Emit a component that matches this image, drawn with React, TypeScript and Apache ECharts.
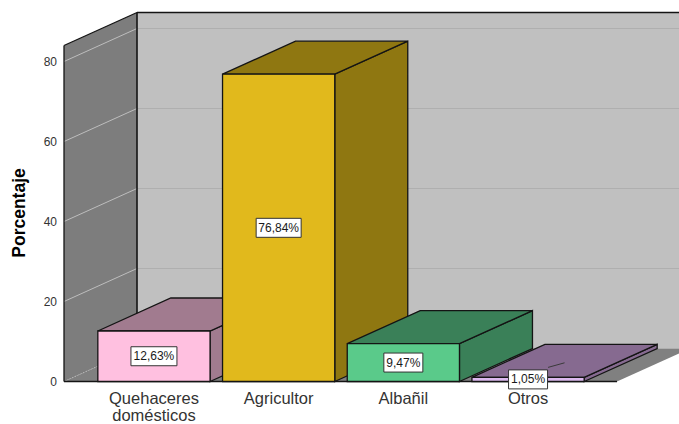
import React, { useEffect, useRef } from "react";
import * as echarts from "echarts";

// Occupation shares, in percent
const categories = ["Quehaceres\ndomésticos", "Agricultor", "Albañil", "Otros"];
const percentages = [12.63, 76.84, 9.47, 1.05];
const percentLabels = ["12,63%", "76,84%", "9,47%", "1,05%"];
const yTicks = [0, 20, 40, 60, 80];

const frontColors = ["#ffc0e0", "#e1b91c", "#5aca8a", "#dbb8ee"];
const shadeColors = ["#a17b8f", "#8f7711", "#3a8058", "#866a90"];

// Oblique projection used for the box depth
const DEPTH_X = 73;
const DEPTH_Y = -33;
const WALL_TOP_VALUE = 84;
const FLOOR_LEFT = 64;
const FLOOR_RIGHT = 617;
const WALL_RIGHT = 700;
const EDGE = "#141414";
const EDGE_WIDTH = 1.3;
const FONT = '"Liberation Sans", Arial, sans-serif';

const poly = (points: number[][], fill: string, stroke: string | null = EDGE, lineWidth = EDGE_WIDTH) => ({
  type: "polygon",
  shape: { points },
  style: { fill, stroke: stroke ?? undefined, lineWidth },
});

const seg = (x1: number, y1: number, x2: number, y2: number, stroke: string, lineWidth = 1, lineDash?: number[]) => ({
  type: "line",
  shape: { x1, y1, x2, y2 },
  style: { stroke, lineWidth, lineDash },
});

// Back wall, side wall, floor and their gridlines
const renderWalls = (_params: any, api: any) => {
  const yOf = (v: number) => api.coord([0, v])[1];
  const y0 = yOf(0);
  const yTop = yOf(WALL_TOP_VALUE);
  const bx = FLOOR_LEFT + DEPTH_X;
  const children: any[] = [
    poly([[bx, yTop + DEPTH_Y], [WALL_RIGHT, yTop + DEPTH_Y], [WALL_RIGHT, y0 + DEPTH_Y], [bx, y0 + DEPTH_Y]], "#c0c0c0", null),
    poly([[FLOOR_LEFT, y0], [FLOOR_RIGHT, y0], [FLOOR_RIGHT + DEPTH_X, y0 + DEPTH_Y], [bx, y0 + DEPTH_Y]], "#808080", null),
    poly([[FLOOR_LEFT, y0], [FLOOR_LEFT, yTop], [bx, yTop + DEPTH_Y], [bx, y0 + DEPTH_Y]], "#7d7d7d", null),
  ];
  yTicks.forEach((t) => {
    const y = yOf(t);
    if (t > 0) {
      children.push(seg(bx, y + DEPTH_Y, WALL_RIGHT, y + DEPTH_Y, "#afafaf"));
      children.push(seg(FLOOR_LEFT, y, bx, y + DEPTH_Y, "#bdbdbd"));
    } else {
      children.push(seg(FLOOR_LEFT, y, bx, y + DEPTH_Y, "#bdbdbd", 1, [1, 2]));
    }
  });
  children.push(
    seg(bx, yTop + DEPTH_Y, WALL_RIGHT, yTop + DEPTH_Y, EDGE, EDGE_WIDTH),
    seg(FLOOR_LEFT, yTop, bx, yTop + DEPTH_Y, EDGE, EDGE_WIDTH),
    seg(FLOOR_LEFT, y0, FLOOR_LEFT, yTop, EDGE, EDGE_WIDTH),
    seg(bx, yTop + DEPTH_Y, bx, y0 + DEPTH_Y, EDGE, 1.6),
    seg(FLOOR_LEFT, y0, FLOOR_RIGHT, y0, EDGE, EDGE_WIDTH),
  );
  return { type: "group", children };
};

// One oblique box per category, with its value label on top
const renderBar = (params: any, api: any) => {
  const i = params.dataIndex;
  const [cx, yv] = api.coord([api.value(0), api.value(1)]);
  const y0 = api.coord([api.value(0), 0])[1];
  const half = (api.size([1, 0])[0] * 0.9) / 2;
  const l = cx - half;
  const r = cx + half;
  const labelText = percentLabels[i];
  const labelWidth = i === 0 ? 46 : i === 1 ? 45 : 39;
  const labelY = (yv + y0) / 2;
  const children: any[] = [
    poly([[r, y0], [r + DEPTH_X, y0 + DEPTH_Y], [r + DEPTH_X, yv + DEPTH_Y], [r, yv]], shadeColors[i]),
    poly([[l, yv], [l + DEPTH_X, yv + DEPTH_Y], [r + DEPTH_X, yv + DEPTH_Y], [r, yv]], shadeColors[i]),
    poly([[l, y0], [r, y0], [r, yv], [l, yv]], frontColors[i]),
  ];
  if (yv > y0 - 10) {
    // Thin bars get a leader line from the label to the top face
    children.push(seg(cx + 20, labelY - 12, cx + DEPTH_X / 2, yv + DEPTH_Y / 2 + 2, "#3a3a3a"));
  }
  children.push(
    {
      type: "rect",
      shape: { x: cx - labelWidth / 2, y: labelY - 9.5, width: labelWidth, height: 19 },
      style: { fill: "#ffffff", stroke: "#333333", lineWidth: 1 },
    },
    {
      type: "text",
      style: {
        text: labelText,
        x: cx,
        y: labelY,
        align: "center",
        verticalAlign: "middle",
        fill: "#1a1a1a",
        font: `12px ${FONT}`,
      },
    },
  );
  return { type: "group", children };
};

export default function App() {
  const ref = useRef<HTMLDivElement>(null);

  useEffect(() => {
    document.body.style.margin = "0";
    const chart = echarts.init(ref.current!, undefined, { renderer: "svg" });
    chart.setOption({
      animation: false,
      backgroundColor: "#ffffff",
      grid: { left: 91.6, right: 88.6, top: 61.5, bottom: 42.5, outerBoundsMode: "none" },
      xAxis: {
        type: "category",
        data: categories,
        axisLine: { show: false },
        axisTick: { show: false },
        axisLabel: {
          interval: 0,
          margin: 8,
          fontFamily: FONT,
          fontSize: 16.5,
          lineHeight: 17,
          color: "#333333",
        },
      },
      yAxis: {
        type: "value",
        min: 0,
        max: 80,
        interval: 20,
        offset: 27.6,
        name: "Porcentaje",
        nameLocation: "middle",
        nameGap: 36,
        nameTextStyle: { fontFamily: FONT, fontSize: 17.5, fontWeight: "bold", color: "#000000", padding: [0, 0, 0, 17] },
        axisLine: { show: false },
        axisTick: { show: false },
        splitLine: { show: false },
        axisLabel: { margin: 7, fontFamily: FONT, fontSize: 12, color: "#333333", padding: [2, 0, 0, 0] },
      },
      series: [
        { type: "custom", silent: true, renderItem: renderWalls, data: [[0, 0]], z: 1 },
        {
          type: "custom",
          silent: true,
          renderItem: renderBar,
          encode: { x: 0, y: 1 },
          data: percentages.map((v, i) => [i, v]),
          z: 2,
        },
      ],
    });
    return () => chart.dispose();
  }, []);

  return <div ref={ref} style={{ width: 679, height: 424 }} />;
}
